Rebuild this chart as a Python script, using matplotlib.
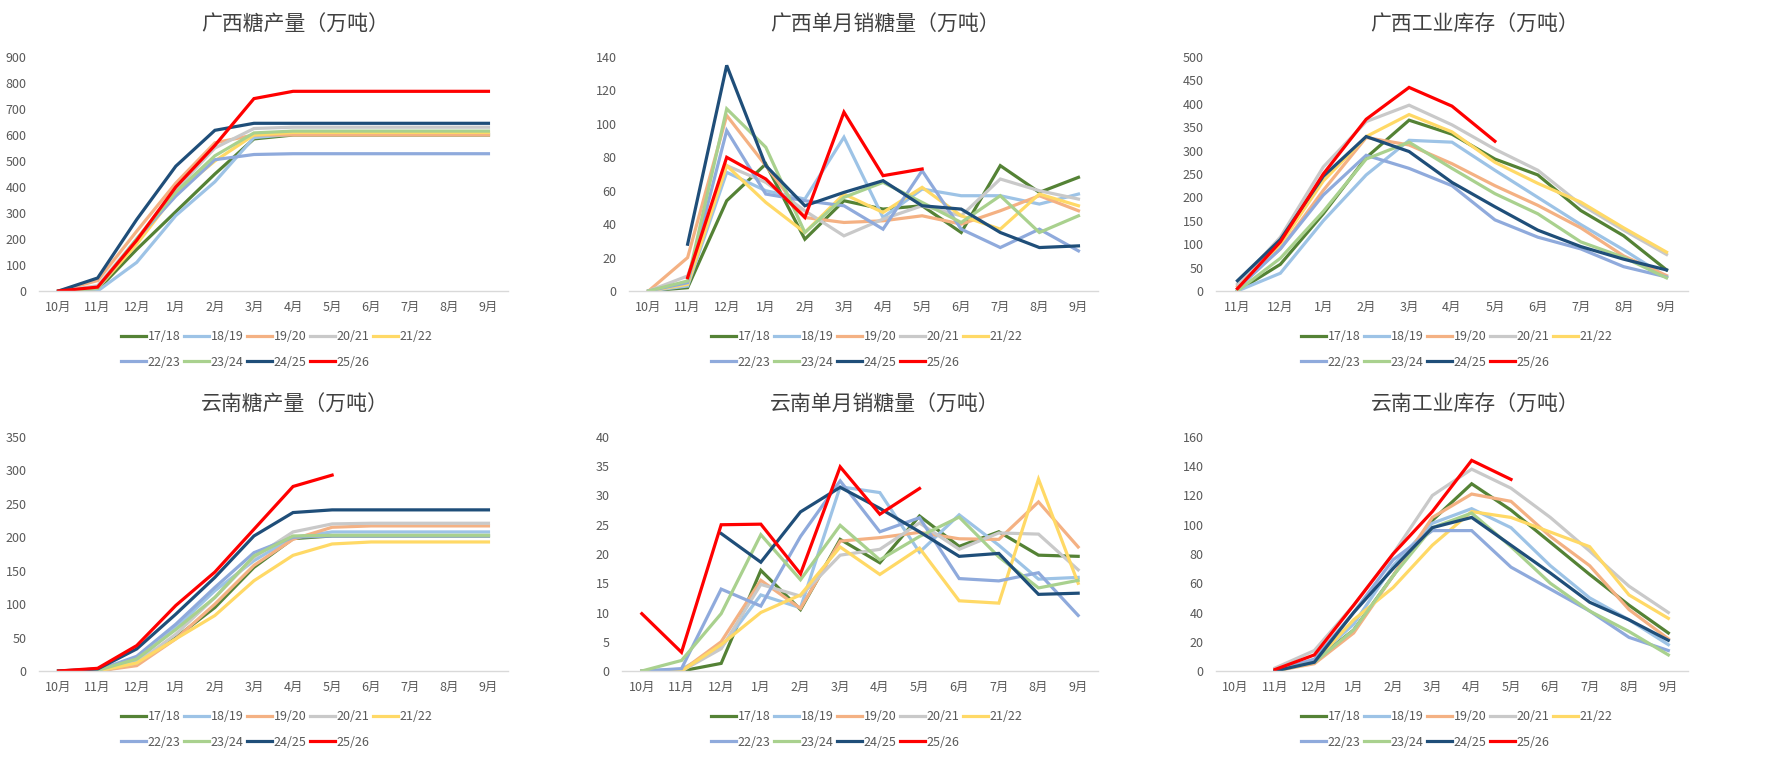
import matplotlib
matplotlib.use("Agg")
import matplotlib.pyplot as plt
import numpy as np

plt.rcParams["font.family"] = ["Noto Sans CJK SC", "DejaVu Sans"]

MONTHS = ["10月", "11月", "12月", "1月", "2月", "3月", "4月", "5月", "6月", "7月", "8月", "9月"]
MONTHS_GX_STOCK = MONTHS[1:]

SEASONS = ["17/18", "18/19", "19/20", "20/21", "21/22", "22/23", "23/24", "24/25", "25/26"]
COLORS = ["#548235", "#9DC3E6", "#F4B183", "#C9C9C9", "#FFD966",
          "#8FAADC", "#A9D18E", "#1F4E79", "#FF0000"]

N = None

# 广西糖产量（万吨）
gx_output = [
    [0, 5, 160, 305, 450, 585, 600, 600, 600, 600, 600, 600],
    [0, 0, 110, 290, 420, 590, 603, 603, 603, 603, 603, 603],
    [0, 40, 230, 415, 570, 600, 600, 600, 600, 600, 600, 600],
    [0, 20, 200, 390, 550, 625, 630, 630, 630, 630, 630, 630],
    [0, 10, 180, 375, 500, 600, 610, 610, 610, 610, 610, 610],
    [0, 10, 200, 365, 505, 525, 528, 528, 528, 528, 528, 528],
    [0, 10, 200, 380, 520, 608, 615, 615, 615, 615, 615, 615],
    [0, 50, 275, 480, 618, 645, 645, 645, 645, 645, 645, 645],
    [0, 15, 195, 400, 560, 740, 768, 768, 768, 768, 768, 768],
]

# 广西单月销糖量（万吨）
gx_sales = [
    [0, 2, 54, 76, 31, 54, 49, 51, 35, 75, 59, 68],
    [0, 3, 71, 60, 55, 92, 44, 61, 57, 57, 52, 58],
    [0, 20, 105, 75, 44, 41, 42, 45, 40, 48, 57, 48],
    [0, 9, 75, 65, 48, 33, 43, 51, 45, 67, 60, 55],
    [0, 4, 75, 53, 35, 58, 47, 62, 45, 37, 58, 51],
    [0, 5, 96, 58, 54, 51, 37, 72, 37, 26, 37, 24],
    [0, 6, 109, 86, 35, 56, 65, 53, 41, 57, 35, 45],
    [N, 28, 135, 75, 51, 59, 66, 51, 49, 35, 26, 27],
    [N, 8, 80, 67, 44, 107, 69, 73, N, N, N, N],
]

# 广西工业库存（万吨），11月起
gx_stock = [
    [0, 57, 165, 285, 365, 335, 282, 248, 172, 118, 45],
    [0, 38, 150, 248, 322, 318, 258, 200, 142, 88, 30],
    [10, 90, 215, 328, 312, 272, 225, 183, 135, 75, 33],
    [15, 115, 265, 362, 397, 355, 303, 258, 185, 130, 78],
    [5, 100, 235, 330, 377, 340, 275, 230, 190, 135, 83],
    [5, 90, 205, 290, 262, 225, 152, 115, 90, 52, 30],
    [0, 70, 170, 282, 318, 262, 208, 165, 105, 72, 28],
    [22, 110, 245, 330, 298, 232, 180, 130, 95, 68, 45],
    [5, 105, 250, 367, 435, 395, 320, N, N, N, N],
]

# 云南糖产量（万吨）
yn_output = [
    [0, 0, 10, 50, 95, 155, 198, 202, 202, 202, 202, 202],
    [0, 0, 15, 65, 120, 165, 200, 208, 208, 208, 208, 208],
    [0, 0, 8, 48, 100, 158, 197, 215, 217, 217, 217, 217],
    [0, 1, 12, 55, 110, 170, 208, 220, 221, 221, 221, 221],
    [0, 0, 12, 48, 83, 135, 173, 190, 193, 193, 193, 193],
    [0, 1, 22, 70, 125, 177, 200, 202, 202, 202, 202, 202],
    [0, 1, 18, 62, 110, 172, 202, 203, 203, 203, 203, 203],
    [0, 3, 33, 85, 140, 202, 237, 241, 241, 241, 241, 241],
    [0, 4, 38, 98, 148, 212, 276, 293, N, N, N, N],
]

# 云南单月销糖量（万吨）
yn_sales = [
    [0, 0, 1.3, 17.2, 10.5, 22.5, 18.5, 26.5, 21.3, 23.8, 19.8, 19.6],
    [0, 0.3, 4, 13, 10.8, 31.5, 30.5, 20.3, 26.7, 21.5, 15.7, 16],
    [0, 0, 5, 15.5, 10.7, 22.2, 22.8, 23.7, 22.6, 22.5, 28.9, 21.2],
    [0, 0, 3.8, 14.8, 12.8, 19.8, 20.8, 25.3, 20.8, 23.6, 23.4, 17.3],
    [0, 0, 4.5, 10, 13, 21.2, 16.5, 21, 12, 11.6, 32.8, 15],
    [0, 0.4, 14, 11.1, 23, 32.5, 23.8, 26.2, 15.8, 15.4, 16.8, 9.5],
    [0, 1.8, 9.8, 23.3, 15.6, 24.9, 19, 23, 26.3, 19.5, 14.2, 15.5],
    [N, N, 23.5, 18.6, 27.2, 31.4, 27.8, 23.8, 19.6, 20.1, 13.1, 13.3],
    [9.8, 3.2, 25, 25.1, 16.6, 34.9, 26.8, 31.2, N, N, N, N],
]

# 云南工业库存（万吨）
yn_stock = [
    [N, 0, 7, 28, 65, 103, 128, 110, 88, 66, 45, 26],
    [N, 0, 8, 32, 72, 101, 111, 98, 72, 50, 35, 18],
    [N, 0, 5, 26, 65, 105, 121, 116, 92, 72, 42, 22],
    [N, 2, 14, 45, 80, 120, 138, 125, 105, 82, 58, 40],
    [N, 0, 6, 35, 57, 86, 109, 105, 95, 85, 52, 36],
    [N, 0, 8, 40, 76, 96, 96, 71, 56, 41, 23, 14],
    [N, 0, 6, 28, 65, 98, 108, 85, 60, 41, 27, 11],
    [N, 0, 6, 40, 70, 98, 105, 86, 67, 47, 35, 21],
    [N, 1, 11, 45, 80, 109, 144, 131, N, N, N, N],
]

PANELS = [
    # title, months, data, ymax, step, left px, top px
    ("广西糖产量（万吨）", MONTHS, gx_output, 900, 100, 39, 0),
    ("广西单月销糖量（万吨）", MONTHS, gx_sales, 140, 20, 629, 0),
    ("广西工业库存（万吨）", MONTHS_GX_STOCK, gx_stock, 500, 50, 1216, 0),
    ("云南糖产量（万吨）", MONTHS, yn_output, 350, 50, 39, 380),
    ("云南单月销糖量（万吨）", MONTHS, yn_sales, 40, 5, 622, 380),
    ("云南工业库存（万吨）", MONTHS, yn_stock, 160, 20, 1216, 380),
]

W, H = 1770, 760
TEXT = "#595959"


def to_float(row):
    return np.array([np.nan if v is None else v for v in row], dtype=float)


def main():
    fig = plt.figure(figsize=(W / 100, H / 100), dpi=100)
    col_right = [508, 1098, 1688]

    for i, (title, months, data, ymax, step, left, top) in enumerate(PANELS):
        right = col_right[i % 3]
        ax_top = top + 57
        ax_bot = top + 291
        ax = fig.add_axes([left / W, 1 - ax_bot / H, (right - left) / W, (ax_bot - ax_top) / H])

        x = np.arange(len(months))
        handles = []
        for season, color, row in zip(SEASONS, COLORS, data):
            (line,) = ax.plot(x, to_float(row), color=color, lw=2.3,
                              solid_joinstyle="miter", label=season)
            handles.append(line)

        ax.set_xlim(-0.5, len(months) - 0.5)
        ax.set_ylim(0, ymax)
        ax.set_yticks(np.arange(0, ymax + step / 2, step))
        ax.set_xticks(x)
        ax.set_xticklabels(months)
        ax.tick_params(axis="both", length=0, labelsize=9, colors=TEXT)
        ax.tick_params(axis="x", pad=7)
        ax.tick_params(axis="y", pad=9)
        for side in ["top", "right", "left"]:
            ax.spines[side].set_visible(False)
        ax.spines["bottom"].set_color("#D9D9D9")
        ax.spines["bottom"].set_linewidth(1)
        ax.patch.set_alpha(0)

        # title centered on the panel
        cx = ((i % 3) * 590 + 295) / W
        fig.text(cx, 1 - (top + 25) / H, title, ha="center", va="center",
                 fontsize=15, color="#404040")

        # legend: two rows, filled row by row
        order = [0, 5, 1, 6, 2, 7, 3, 8, 4]
        leg_x = ((i % 3) * 590 + 121) / W
        leg_y = 1 - (top + 330) / H
        fig.legend([handles[k] for k in order], [SEASONS[k] for k in order],
                   ncol=5, loc="upper left", bbox_to_anchor=(leg_x, leg_y),
                   frameon=False, fontsize=9, handlelength=2.0,
                   handletextpad=0.15, columnspacing=0.25, labelspacing=1.0,
                   borderpad=0, borderaxespad=0, labelcolor=TEXT)

    fig.savefig("out.png", dpi=100)
    plt.close(fig)


if __name__ == "__main__":
    main()
